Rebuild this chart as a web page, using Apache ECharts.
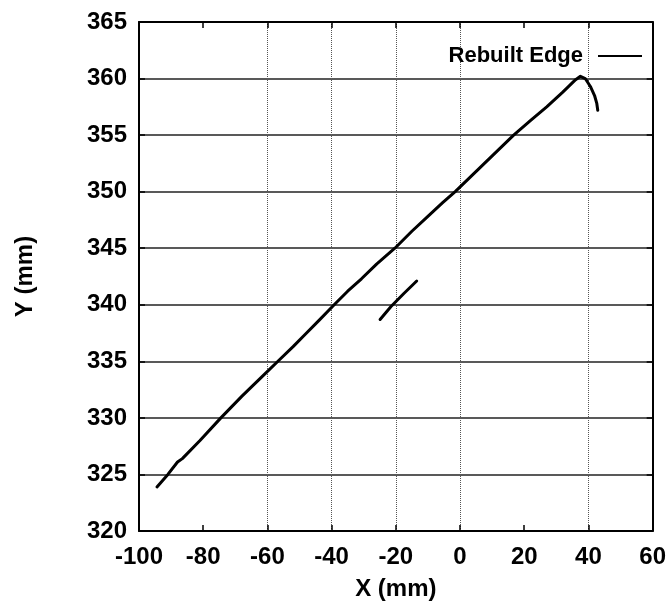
<!DOCTYPE html>
<html>
<head>
<meta charset="utf-8">
<script src="https://cdn.jsdelivr.net/npm/echarts@6/dist/echarts.min.js"></script>
<style>
  html, body { margin: 0; padding: 0; background: #fff; }
  #chart { width: 669px; height: 606px; }
</style>
</head>
<body>
<div id="chart"></div>
<script>
// Reconstructed edge trace (mm)
const edgeX = [-94.4, -91.0, -88.0, -86.5, -81.0, -74.5, -68.0, -61.1, -56.4, -52.0, -48.2, -44.0,
               -39.2, -35.0, -30.7, -26.0, -20.3, -15.0, -10.1, -5.5, -1.5, 4.3, 10.5,
               16.7, 22.0, 27.0, 32.0, 36.0, 37.5, 39.0, 40.6, 41.9, 42.6, 42.9];
const edgeY = [323.9, 325.0, 326.1, 326.4, 328.0, 330.0, 331.9, 333.8, 335.1, 336.3, 337.4, 338.6,
               340.0, 341.2, 342.3, 343.6, 345.0, 346.5, 347.8, 349.0, 350.0, 351.6, 353.3,
               355.0, 356.3, 357.5, 358.8, 359.9, 360.2, 360.0, 359.3, 358.5, 357.8, 357.2];
// Short detached piece of the same edge
const segX = [-24.9, -21.5, -17.5, -13.5];
const segY = [338.7, 339.85, 341.0, 342.1];

const xTicks = [-100, -80, -60, -40, -20, 0, 20, 40, 60];
const yTicks = [320, 325, 330, 335, 340, 345, 350, 355, 360, 365];
// vertical dotted guides only at these x values
const xGuides = [-60, -40, -20, 0, 40];

const FONT = "'Liberation Sans', Arial, sans-serif";
const toPairs = (xs, ys) => xs.map((x, i) => [x, ys[i]]);

const chart = echarts.init(document.getElementById('chart'), null, { renderer: 'canvas' });

const tickLabel = { fontFamily: FONT, fontWeight: 'bold', fontSize: 24, color: '#000' };
const axisLine = { show: true, onZero: false, lineStyle: { color: '#000', width: 2 } };
const axisTick = { show: true, inside: true, length: 6, lineStyle: { color: '#000', width: 1.5 } };

const edgeLine = { color: '#000', width: 3, cap: 'round', join: 'round' };

const option = {
  animation: false,
  backgroundColor: '#fff',
  grid: { left: 139, right: 12, top: 22, bottom: 71, containLabel: false },
  legend: {
    data: ['Rebuilt Edge'],
    right: 27, top: 45, padding: 0,
    align: 'right',
    icon: 'rect',
    itemWidth: 44, itemHeight: 2,
    itemStyle: { color: '#000' },
    textStyle: { fontFamily: FONT, fontWeight: 'bold', fontSize: 22, color: '#000', padding: [0, 10, 0, 0] }
  },
  xAxis: [{
    type: 'value', position: 'bottom',
    min: xTicks[0], max: xTicks[xTicks.length - 1], interval: 20,
    name: 'X (mm)', nameLocation: 'middle', nameGap: 46,
    nameTextStyle: { fontFamily: FONT, fontWeight: 'bold', fontSize: 24, color: '#000' },
    axisLine, axisTick,
    axisLabel: Object.assign({ margin: 14 }, tickLabel),
    splitLine: {
      show: true,
      lineStyle: {
        type: 'dotted', width: 1,
        color: xTicks.map(v => xGuides.includes(v) ? '#555' : 'rgba(0,0,0,0)')
      }
    }
  }, {
    type: 'value', position: 'top',
    min: xTicks[0], max: xTicks[xTicks.length - 1], interval: 20,
    axisLine, axisTick, axisLabel: { show: false }, splitLine: { show: false }
  }],
  yAxis: [{
    type: 'value', position: 'left',
    min: yTicks[0], max: yTicks[yTicks.length - 1], interval: 5,
    name: 'Y (mm)', nameLocation: 'middle', nameGap: 102, nameRotate: 90,
    nameTextStyle: { fontFamily: FONT, fontWeight: 'bold', fontSize: 24, color: '#000' },
    axisLine, axisTick,
    axisLabel: Object.assign({ margin: 12 }, tickLabel),
    splitLine: { show: true, lineStyle: { color: '#222', width: 1.5 } }
  }, {
    type: 'value', position: 'right',
    min: yTicks[0], max: yTicks[yTicks.length - 1], interval: 5,
    axisLine, axisTick, axisLabel: { show: false }, splitLine: { show: false }
  }],
  series: [{
    name: 'Rebuilt Edge', type: 'line',
    data: toPairs(edgeX, edgeY),
    showSymbol: false, symbol: 'none', smooth: false,
    lineStyle: edgeLine,
    itemStyle: { color: '#000' }
  }, {
    name: 'Rebuilt Edge', type: 'line',
    data: toPairs(segX, segY),
    showSymbol: false, symbol: 'none', smooth: false,
    lineStyle: edgeLine,
    itemStyle: { color: '#000' }
  }]
};

chart.setOption(option);
</script>
</body>
</html>
